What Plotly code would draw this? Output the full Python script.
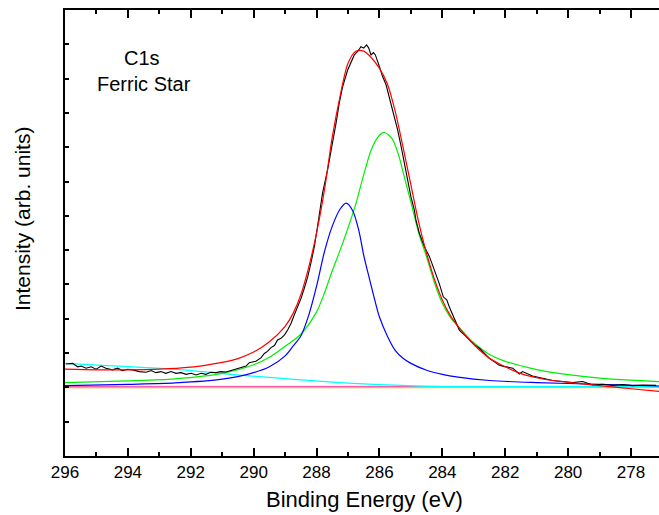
import plotly.graph_objects as go

# ---- data (binding energy in eV, intensity in arb. units) ----
data_be = [295.97, 295.76, 295.60, 295.49, 295.33, 295.17, 295.01, 294.85, 294.70, 294.49,
           294.33, 294.17, 294.01, 293.85, 293.64, 293.42, 293.26, 293.11, 292.95, 292.79,
           292.63, 292.47, 292.31, 292.15, 291.99, 291.83, 291.67, 291.52, 291.36, 291.20,
           291.04, 290.88, 290.72, 290.56, 290.40, 290.24, 290.14, 289.93, 289.77, 289.66,
           289.56, 289.45, 289.34, 289.24, 289.13, 289.02, 288.92, 288.81, 288.71, 288.60,
           288.49, 288.39, 288.28, 288.18, 288.07, 287.97, 287.86, 287.81, 287.65, 287.49,
           287.38, 287.28, 287.17, 287.01, 286.90, 286.80, 286.69, 286.59, 286.50, 286.41,
           286.34, 286.27, 286.19, 286.13, 286.00, 285.90, 285.79, 285.69, 285.58, 285.49,
           285.42, 285.31, 285.21, 285.10, 285.00, 284.89, 284.84, 284.73, 284.57, 284.41,
           284.25, 284.10, 283.97, 283.86, 283.78, 283.67, 283.56, 283.46, 283.30, 283.14,
           282.98, 282.82, 282.66, 282.51, 282.35, 282.21, 282.08, 281.76, 281.55, 281.45,
           281.13, 280.81, 280.49, 280.17, 279.86, 279.54, 279.22, 278.91, 278.58, 278.27,
           277.95, 277.63, 277.20]
data_int = [0.68, 0.70, 0.60, 0.62, 0.56, 0.60, 0.53, 0.62, 0.56, 0.51,
            0.56, 0.49, 0.53, 0.51, 0.46, 0.44, 0.49, 0.43, 0.46, 0.41,
            0.46, 0.41, 0.43, 0.38, 0.41, 0.36, 0.41, 0.38, 0.44, 0.43,
            0.46, 0.45, 0.49, 0.53, 0.59, 0.62, 0.72, 0.76, 0.86, 0.99,
            1.05, 1.16, 1.22, 1.38, 1.43, 1.53, 1.67, 1.87, 2.11, 2.35,
            2.60, 2.89, 3.23, 3.62, 4.10, 4.69, 5.27, 5.66, 6.34, 7.12,
            7.70, 8.28, 8.77, 9.25, 9.50, 9.69, 9.79, 9.93, 9.89, 9.98,
            9.89, 9.69, 9.76, 9.69, 9.35, 9.06, 8.82, 8.48, 8.04, 7.80,
            7.50, 7.02, 6.53, 6.05, 5.56, 5.17, 4.88, 4.49, 4.10, 3.81,
            3.42, 3.03, 2.64, 2.55, 2.35, 2.11, 1.87, 1.67, 1.53, 1.38,
            1.24, 1.14, 0.99, 0.85, 0.75, 0.65, 0.62, 0.56, 0.39, 0.46,
            0.33, 0.26, 0.20, 0.17, 0.14, 0.17, 0.07, 0.09, 0.06, 0.08,
            0.05, 0.07, 0.06]

# fitted envelope (red)
env_be = [296.0, 295.0, 294.0, 293.0, 292.0, 291.5, 291.0, 290.5, 290.0, 289.5,
          289.0, 288.75, 288.5, 288.25, 288.0, 287.75, 287.5, 287.25, 287.0, 286.75,
          286.5, 286.25, 286.0, 285.75, 285.5, 285.25, 285.0, 284.75, 284.5, 284.25,
          284.0, 283.75, 283.5, 283.0, 282.5, 282.0, 281.5, 281.0, 280.5, 280.0,
          279.0, 278.0, 277.1]
env_int = [0.53, 0.51, 0.51, 0.53, 0.59, 0.65, 0.73, 0.84, 1.03, 1.33,
           1.78, 2.15, 2.70, 3.50, 4.50, 5.75, 7.30, 8.50, 9.45, 9.80,
           9.80, 9.60, 9.30, 8.85, 8.05, 7.00, 5.90, 4.80, 3.90, 3.15,
           2.55, 2.10, 1.78, 1.25, 0.85, 0.60, 0.40, 0.28, 0.20, 0.15,
           0.05, -0.04, -0.12]

# component 1 (green)
g_be = [296.0, 294.0, 292.5, 291.0, 290.0, 289.5, 289.0, 288.5, 288.0, 287.75,
        287.5, 287.25, 287.0, 286.75, 286.5, 286.25, 286.0, 285.84, 285.6, 285.4,
        285.2, 285.0, 284.75, 284.5, 284.25, 284.0, 283.75, 283.5, 283.0, 282.5,
        282.0, 281.0, 280.0, 279.0, 278.0, 277.1]
g_int = [0.14, 0.19, 0.25, 0.41, 0.66, 0.88, 1.20, 1.55, 2.20, 2.75,
         3.40, 4.00, 4.65, 5.35, 6.20, 6.95, 7.35, 7.43, 7.25, 6.80,
         6.10, 5.40, 4.50, 3.80, 3.05, 2.45, 2.05, 1.78, 1.30, 0.96,
         0.76, 0.52, 0.37, 0.27, 0.21, 0.17]

# component 2 (blue)
b_be = [296.0, 294.0, 292.5, 291.0, 290.0, 289.5, 289.0, 288.75, 288.5, 288.25,
        288.0, 287.75, 287.5, 287.25, 287.06, 286.85, 286.65, 286.5, 286.3, 286.15,
        286.0, 285.75, 285.5, 285.25, 285.0, 284.5, 284.0, 283.5, 282.5, 281.0,
        279.0, 277.1]
b_int = [0.05, 0.09, 0.13, 0.24, 0.43, 0.60, 0.92, 1.20, 1.50, 2.10,
         2.95, 3.95, 4.70, 5.20, 5.37, 5.15, 4.55, 3.85, 3.10, 2.55,
         2.05, 1.50, 1.08, 0.85, 0.70, 0.50, 0.38, 0.30, 0.20, 0.14,
         0.09, 0.04]

# background (cyan)
bg_be = [296.0, 292.58, 290.46, 287.28, 286.0, 284.4, 282.0, 277.1]
bg_int = [0.70, 0.53, 0.36, 0.14, 0.08, 0.03, 0.02, 0.02]

flat_be = [296.0, 277.1]
pink_int = [0.03, 0.03]
orange_int = [-0.01, -0.01]

x_ticks = [296, 294, 292, 290, 288, 286, 284, 282, 280, 278]

fig = go.Figure()
fig.add_trace(go.Scatter(x=flat_be, y=orange_int, mode="lines", line=dict(color="#ffa500", width=1)))
fig.add_trace(go.Scatter(x=flat_be, y=pink_int, mode="lines", line=dict(color="#ff3fa0", width=1)))
fig.add_trace(go.Scatter(x=bg_be, y=bg_int, mode="lines",
                         line=dict(color="#00ffff", width=1.2, shape="spline", smoothing=0.8)))
fig.add_trace(go.Scatter(x=g_be, y=g_int, mode="lines",
                         line=dict(color="#00ee00", width=1.2, shape="spline", smoothing=0.8)))
fig.add_trace(go.Scatter(x=b_be, y=b_int, mode="lines",
                         line=dict(color="#0000ff", width=1.2, shape="spline", smoothing=0.8)))
fig.add_trace(go.Scatter(x=data_be, y=data_int, mode="lines", line=dict(color="#000000", width=1.1)))
fig.add_trace(go.Scatter(x=env_be, y=env_int, mode="lines",
                         line=dict(color="#ff0000", width=1.2, shape="spline", smoothing=0.8)))

L, T, W, H = 65, 10, 594, 446


def px(xp, yp):
    return (xp - L) / W, (T + H - yp) / H


fig.update_layout(
    width=659, height=515,
    margin=dict(l=L, r=0, t=T, b=515 - T - H),
    paper_bgcolor="white", plot_bgcolor="white",
    showlegend=False,
    font=dict(family="Liberation Sans, Arial, sans-serif", size=17, color="#000"),
    xaxis=dict(
        range=[296, 277.11], tickmode="array", tickvals=x_ticks,
        ticktext=[str(v) for v in x_ticks],
        ticks="inside", ticklen=8, tickwidth=1.5, tickcolor="#000",
        minor=dict(dtick=1, ticks="inside", ticklen=4, tickwidth=1.5, tickcolor="#000"),
        showline=True, linewidth=2, linecolor="#000", mirror="ticks",
        showgrid=False, zeroline=False,
        tickfont=dict(size=17),
    ),
    yaxis=dict(
        range=[-2, 11], dtick=1, tick0=0, showticklabels=False,
        ticks="inside", ticklen=4, tickwidth=1.5, tickcolor="#000",
        showline=True, linewidth=2, linecolor="#000", mirror=False,
        showgrid=False, zeroline=False,
    ),
)

ann = []
for text, xp, yp, size, angle in [
    ("C1s", 142, 58, 20, 0),
    ("Ferric Star", 144, 84, 20, 0),
    ("Binding Energy (eV)", 364, 499, 22, 0),
    ("Intensity (arb. units)", 22, 219, 21, -90),
]:
    xa, ya = px(xp, yp)
    ann.append(dict(text=text, x=xa, y=ya, xref="paper", yref="paper",
                    xanchor="center", yanchor="middle", showarrow=False,
                    textangle=angle, font=dict(size=size)))
fig.update_layout(annotations=ann)

fig.write_html("out.html")
